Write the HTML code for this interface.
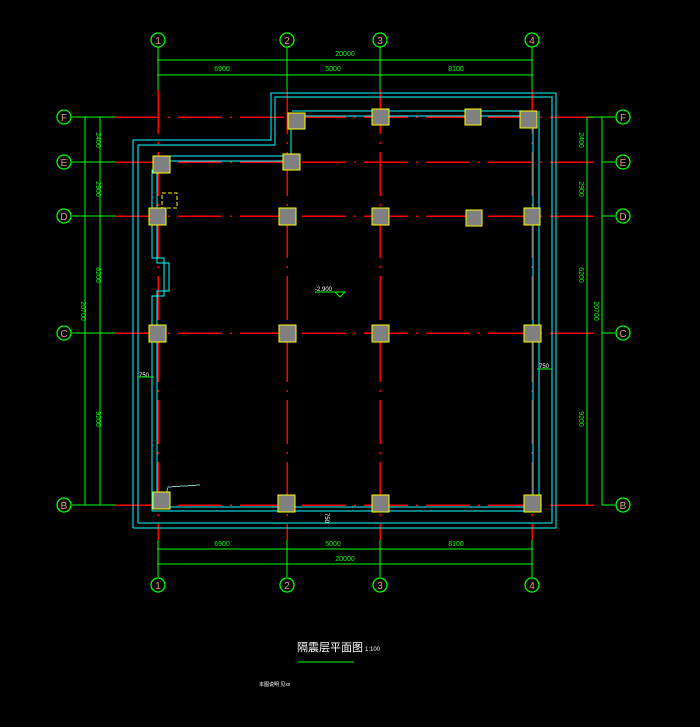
<!DOCTYPE html>
<html><head><meta charset="utf-8"><style>
html,body{margin:0;padding:0;background:#000;}
svg{display:block}
text{font-family:"Liberation Sans","Noto Sans CJK SC",sans-serif;}
</style></head><body>
<svg width="700" height="727" viewBox="0 0 700 727" xmlns="http://www.w3.org/2000/svg" shape-rendering="crispEdges">
<rect width="700" height="727" fill="#000"/>
<!-- red grid lines -->
<g stroke="#ff0000" stroke-width="1.5" stroke-dasharray="44,8,2,8" fill="none">
<line x1="116" y1="117" x2="602" y2="117"/>
<line x1="116" y1="162" x2="602" y2="162"/>
<line x1="116" y1="216" x2="602" y2="216"/>
<line x1="116" y1="333" x2="602" y2="333"/>
<line x1="116" y1="505" x2="602" y2="505"/>
<line x1="158" y1="90" x2="158" y2="540"/>
<line x1="287" y1="90" x2="287" y2="540"/>
<line x1="380" y1="90" x2="380" y2="540"/>
<line x1="532" y1="90" x2="532" y2="540"/>
</g>
<!-- green axis stubs and dims -->
<g stroke="#00ff00" stroke-width="1" fill="none">
<line x1="158" y1="47" x2="158" y2="90"/><line x1="287" y1="47" x2="287" y2="90"/>
<line x1="380" y1="47" x2="380" y2="90"/><line x1="532" y1="47" x2="532" y2="90"/>
<line x1="158" y1="540" x2="158" y2="577"/><line x1="287" y1="540" x2="287" y2="577"/>
<line x1="380" y1="540" x2="380" y2="577"/><line x1="532" y1="540" x2="532" y2="577"/>
<line x1="157" y1="60" x2="533" y2="60"/><line x1="157" y1="75" x2="533" y2="75"/>
<line x1="157" y1="549" x2="533" y2="549"/><line x1="157" y1="564" x2="533" y2="564"/>
<line x1="72" y1="117" x2="116" y2="117"/><line x1="72" y1="162" x2="116" y2="162"/>
<line x1="72" y1="216" x2="116" y2="216"/><line x1="72" y1="333" x2="116" y2="333"/>
<line x1="72" y1="505" x2="116" y2="505"/>
<line x1="602" y1="117" x2="615" y2="117"/><line x1="602" y1="162" x2="615" y2="162"/>
<line x1="602" y1="216" x2="615" y2="216"/><line x1="602" y1="333" x2="615" y2="333"/>
<line x1="602" y1="505" x2="615" y2="505"/>
<line x1="85" y1="117" x2="85" y2="505"/><line x1="100" y1="117" x2="100" y2="505"/>
<line x1="587" y1="117" x2="587" y2="505"/><line x1="602" y1="117" x2="602" y2="505"/>
<line x1="587" y1="117" x2="602" y2="117"/>
</g>
<!-- bubbles -->
<g stroke="#00ff00" stroke-width="1.3" fill="none" shape-rendering="auto">
<circle cx="158" cy="40" r="7"/><circle cx="287" cy="40" r="7"/><circle cx="380" cy="40" r="7"/><circle cx="532" cy="40" r="7"/>
<circle cx="158" cy="585" r="7"/><circle cx="287" cy="585" r="7"/><circle cx="380" cy="585" r="7"/><circle cx="532" cy="585" r="7"/>
<circle cx="64" cy="117" r="7"/><circle cx="64" cy="162" r="7"/><circle cx="64" cy="216" r="7"/><circle cx="64" cy="333" r="7"/><circle cx="64" cy="505" r="7"/>
<circle cx="623" cy="117" r="7"/><circle cx="623" cy="162" r="7"/><circle cx="623" cy="216" r="7"/><circle cx="623" cy="333" r="7"/><circle cx="623" cy="505" r="7"/>
</g>
<g fill="#e0a070" font-size="10" text-anchor="middle">
<text x="158" y="44">1</text><text x="287" y="44">2</text><text x="380" y="44">3</text><text x="532" y="44">4</text>
<text x="158" y="589">1</text><text x="287" y="589">2</text><text x="380" y="589">3</text><text x="532" y="589">4</text>
<text x="64" y="121">F</text><text x="64" y="166">E</text><text x="64" y="220">D</text><text x="64" y="337">C</text><text x="64" y="509">B</text>
<text x="623" y="121">F</text><text x="623" y="166">E</text><text x="623" y="220">D</text><text x="623" y="337">C</text><text x="623" y="509">B</text>
</g>
<g fill="#00ff00" font-size="7" text-anchor="middle">
<text x="345" y="56">20000</text><text x="222" y="71">6900</text><text x="333" y="71">5000</text><text x="456" y="71">8100</text>
<text x="222" y="546">6900</text><text x="333" y="546">5000</text><text x="456" y="546">8100</text><text x="345" y="561">20000</text>
<text transform="translate(96,140) rotate(90)">2400</text><text transform="translate(96,189) rotate(90)">2900</text>
<text transform="translate(96,275) rotate(90)">6200</text><text transform="translate(96,419) rotate(90)">9200</text>
<text transform="translate(81,311) rotate(90)">20700</text>
<text transform="translate(579,140) rotate(90)">2400</text><text transform="translate(579,189) rotate(90)">2900</text>
<text transform="translate(579,275) rotate(90)">6200</text><text transform="translate(579,419) rotate(90)">9200</text>
<text transform="translate(594,311) rotate(90)">20700</text>
</g>
<!-- cyan walls -->
<g stroke="#00ffff" stroke-width="1.2" fill="none">
<polyline points="133,528 133,140 271,140 271,93 556,93 556,528 133,528"/>
<polyline points="138,523 138,145 275,145 275,97 552,97 552,523 138,523"/>
<polyline points="152,511 152,296 164,296 164,258 152,258 152,170 160,170"/>
<polyline points="157,507 157,291 169,291 169,263 157,263 157,172"/>
<line x1="160" y1="156" x2="290" y2="156"/><line x1="165" y1="161" x2="290" y2="161"/>
<line x1="292" y1="111" x2="533" y2="111"/><line x1="292" y1="116" x2="533" y2="116"/>
<line x1="533" y1="116" x2="533" y2="507"/><line x1="539" y1="111" x2="539" y2="511"/>
<line x1="157" y1="507" x2="533" y2="507"/><line x1="152" y1="511" x2="539" y2="511"/>
<line x1="291" y1="125" x2="291" y2="156"/>
</g>
<polyline points="166,495 168,487 200,485" stroke="#80c0c0" fill="none"/>
<!-- columns -->
<g fill="#808080" stroke="#ffff00" stroke-width="1.3">
<rect x="288" y="113" width="17" height="16"/><rect x="372" y="109" width="17" height="16"/>
<rect x="465" y="109" width="16" height="16"/><rect x="520" y="111" width="17" height="17"/>
<rect x="153" y="156" width="17" height="17"/><rect x="283" y="154" width="17" height="16"/>
<rect x="149" y="208" width="17" height="17"/><rect x="279" y="208" width="17" height="17"/>
<rect x="372" y="208" width="17" height="17"/><rect x="466" y="210" width="16" height="16"/>
<rect x="524" y="208" width="16" height="17"/>
<rect x="149" y="325" width="17" height="17"/><rect x="279" y="325" width="17" height="17"/>
<rect x="372" y="325" width="17" height="17"/><rect x="524" y="325" width="17" height="17"/>
<rect x="153" y="492" width="17" height="17"/><rect x="278" y="495" width="17" height="17"/>
<rect x="372" y="495" width="17" height="17"/><rect x="524" y="495" width="17" height="17"/>
</g>
<rect x="162" y="193" width="15" height="15" fill="none" stroke="#ffff00" stroke-dasharray="4,2"/>
<!-- labels -->
<g fill="#fff" font-size="6">
<text x="315" y="291">-2.900</text>
<text x="139" y="377">750</text><text x="539" y="368">750</text>
<text transform="translate(325,513) rotate(90)">750</text>
</g>
<line x1="315" y1="292" x2="345" y2="292" stroke="#00ff00"/>
<polygon points="335,292 345,292 340,297" fill="none" stroke="#00ff00" shape-rendering="auto"/>
<line x1="137" y1="377" x2="154" y2="377" stroke="#00ff00"/>
<line x1="537" y1="369" x2="552" y2="369" stroke="#00ff00"/>
<text x="297" y="651" fill="#fff" font-size="11">隔震层平面图</text>
<text x="365" y="651" fill="#fff" font-size="6">1:100</text>
<line x1="298" y1="662" x2="354" y2="662" stroke="#00ff00" stroke-width="1.3"/>
<text x="259" y="686" fill="#fff" font-size="5">本图说明 见xx</text>
</svg>
</body></html>
